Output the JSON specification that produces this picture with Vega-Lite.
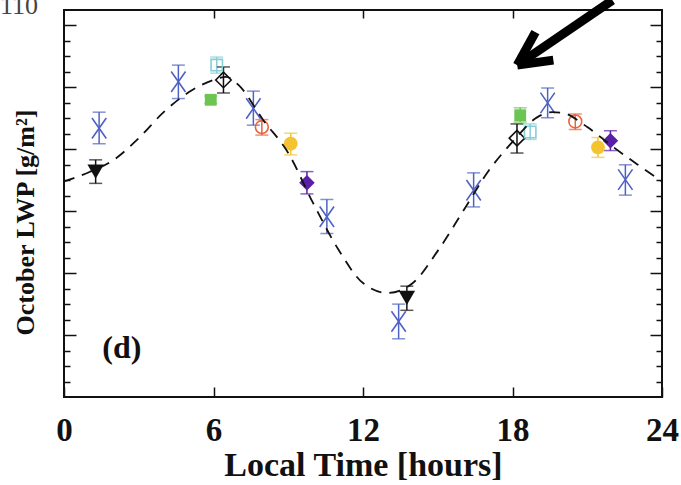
{
  "$schema": "https://vega.github.io/schema/vega-lite/v6.json",
  "width": 598,
  "height": 387,
  "autosize": {"type": "none"},
  "padding": {"left": 64, "top": 10, "right": 19, "bottom": 88},
  "background": "white",
  "config": {
    "view": {"stroke": "#111111", "strokeWidth": 2},
    "axis": {"domain": false, "grid": false, "tickColor": "#111111", "tickWidth": 1.5},
    "point": {"opacity": 1}
  },
  "datasets": {
    "fit": [
      {"hour": 0, "lwp": 74.8}, {"hour": 1, "lwp": 76.3}, {"hour": 2, "lwp": 78.3},
      {"hour": 3, "lwp": 81.8}, {"hour": 4, "lwp": 86.0}, {"hour": 5, "lwp": 89.2},
      {"hour": 6, "lwp": 91.2}, {"hour": 6.5, "lwp": 91.7}, {"hour": 7, "lwp": 90.4},
      {"hour": 8, "lwp": 84.7}, {"hour": 9, "lwp": 79.4}, {"hour": 10, "lwp": 71.3},
      {"hour": 11, "lwp": 63.9}, {"hour": 12, "lwp": 58.4}, {"hour": 13, "lwp": 56.8},
      {"hour": 14, "lwp": 58.4}, {"hour": 15, "lwp": 63.6}, {"hour": 16, "lwp": 69.9},
      {"hour": 17, "lwp": 76.3}, {"hour": 18, "lwp": 81.2}, {"hour": 19, "lwp": 85.2},
      {"hour": 19.6, "lwp": 86.0}, {"hour": 20, "lwp": 85.9}, {"hour": 21, "lwp": 83.6},
      {"hour": 22, "lwp": 80.5}, {"hour": 23, "lwp": 77.6}, {"hour": 24, "lwp": 74.8}
    ],
    "obs": [
      {"sensor": "TMI", "hour": 1.41, "lwp": 83.4, "lo": 80.9, "hi": 86.0},
      {"sensor": "TMI", "hour": 4.59, "lwp": 90.9, "lo": 88.2, "hi": 93.6},
      {"sensor": "TMI", "hour": 7.60, "lwp": 86.6, "lo": 83.9, "hi": 89.4},
      {"sensor": "TMI", "hour": 10.55, "lwp": 69.1, "lo": 66.4, "hi": 71.9},
      {"sensor": "TMI", "hour": 13.43, "lwp": 52.2, "lo": 49.4, "hi": 55.0},
      {"sensor": "TMI", "hour": 16.44, "lwp": 73.4, "lo": 70.7, "hi": 76.2},
      {"sensor": "TMI", "hour": 19.41, "lwp": 87.5, "lo": 85.1, "hi": 89.9},
      {"sensor": "TMI", "hour": 22.53, "lwp": 75.1, "lo": 72.6, "hi": 77.5},
      {"sensor": "AMSR-E", "hour": 1.27, "lwp": 76.4, "lo": 74.5, "hi": 78.3},
      {"sensor": "AMSR-E", "hour": 13.76, "lwp": 56.0, "lo": 54.0, "hi": 57.9},
      {"sensor": "F08", "hour": 6.40, "lwp": 91.2, "lo": 89.1, "hi": 93.3},
      {"sensor": "F08", "hour": 18.18, "lwp": 81.8, "lo": 79.4, "hi": 84.1},
      {"sensor": "F10", "hour": 5.89, "lwp": 88.0, "lo": 87.4, "hi": 88.6},
      {"sensor": "F10", "hour": 18.31, "lwp": 85.5, "lo": 84.4, "hi": 86.7},
      {"sensor": "F11", "hour": 6.13, "lwp": 93.6, "lo": 92.3, "hi": 94.9},
      {"sensor": "F11", "hour": 18.71, "lwp": 82.8, "lo": 81.6, "hi": 84.1},
      {"sensor": "F13", "hour": 7.94, "lwp": 83.6, "lo": 82.3, "hi": 84.8},
      {"sensor": "F13", "hour": 20.52, "lwp": 84.5, "lo": 83.2, "hi": 85.7},
      {"sensor": "F14", "hour": 9.10, "lwp": 80.9, "lo": 79.1, "hi": 82.6},
      {"sensor": "F14", "hour": 21.43, "lwp": 80.3, "lo": 78.7, "hi": 81.9},
      {"sensor": "F15", "hour": 9.75, "lwp": 74.6, "lo": 72.8, "hi": 76.4},
      {"sensor": "F15", "hour": 21.93, "lwp": 81.4, "lo": 79.8, "hi": 83.0}
    ],
    "arrow": [
      {"hour": 22.01, "lwp": 104.08, "hour2": 18.19, "lwp2": 93.6},
      {"hour": 18.19, "lwp": 93.6, "hour2": 18.92, "lwp2": 98.92},
      {"hour": 18.19, "lwp": 93.6, "hour2": 19.64, "lwp2": 94.4}
    ],
    "panel": [{"hour": 2.32, "lwp": 46.34, "label": "(d)"}],
    "corner": [{"hour": -2.57, "lwp": 101.82, "label": "110"}]
  },
  "layer": [
    {
      "data": {"name": "obs"},
      "mark": {"type": "rule", "strokeWidth": 1.5},
      "encoding": {
        "x": {
          "field": "hour", "type": "quantitative",
          "scale": {"domain": [0, 24], "nice": false, "zero": false},
          "axis": {
            "orient": "bottom", "values": [0, 6, 12, 18, 24], "tickSize": -10,
            "labelFont": "Liberation Serif", "labelFontWeight": "bold", "labelFontSize": 33,
            "labelColor": "#111111", "labelPadding": 27, "labelFlush": false,
            "title": "Local Time [hours]", "titleFont": "Liberation Serif", "titleFontWeight": "bold",
            "titleFontSize": 34, "titleColor": "#111111", "titlePadding": 1
          }
        },
        "y": {
          "field": "lo", "type": "quantitative",
          "scale": {"domain": [40, 102.5], "nice": false, "zero": false},
          "axis": {
            "orient": "left",
            "values": [42.5, 45, 47.5, 50, 52.5, 55, 57.5, 60, 62.5, 65, 67.5, 70, 72.5, 75, 77.5, 80, 82.5, 85, 87.5, 90, 92.5, 95, 97.5, 100],
            "tickSize": {"condition": {"test": "datum.value % 10 === 0", "value": -12}, "value": -6},
            "labels": false,
            "title": "October LWP [g/m²]", "titleFont": "Liberation Serif", "titleFontWeight": "bold",
            "titleFontSize": 26, "titleColor": "#111111", "titleX": -31, "titleY": 212,
            "titleBaseline": "alphabetic"
          }
        },
        "y2": {"field": "hi"},
        "color": {
          "field": "sensor", "type": "nominal", "legend": null,
          "scale": {
            "domain": ["TMI", "AMSR-E", "F08", "F10", "F11", "F13", "F14", "F15"],
            "range": ["#4f62c4", "#111111", "#111111", "#6cc452", "#86cfd6", "#e8643c", "#f4c430", "#5a1fa6"]
          }
        }
      }
    },
    {
      "data": {"name": "obs"},
      "mark": {"type": "tick", "orient": "horizontal", "size": 13, "thickness": 1.5},
      "encoding": {
        "x": {"field": "hour", "type": "quantitative", "scale": {"domain": [0, 24], "nice": false, "zero": false}, "axis": null},
        "y": {"field": "lo", "type": "quantitative", "scale": {"domain": [40, 102.5], "nice": false, "zero": false}, "axis": null},
        "color": {"field": "sensor", "type": "nominal", "legend": null}
      }
    },
    {
      "data": {"name": "obs"},
      "mark": {"type": "tick", "orient": "horizontal", "size": 13, "thickness": 1.5},
      "encoding": {
        "x": {"field": "hour", "type": "quantitative", "scale": {"domain": [0, 24], "nice": false, "zero": false}, "axis": null},
        "y": {"field": "hi", "type": "quantitative", "scale": {"domain": [40, 102.5], "nice": false, "zero": false}, "axis": null},
        "color": {"field": "sensor", "type": "nominal", "legend": null}
      }
    },
    {
      "data": {"name": "obs"},
      "transform": [{"filter": "datum.sensor === 'TMI'"}],
      "mark": {"type": "point", "shape": "M-0.7,-1L0.7,1M0.7,-1L-0.7,1", "size": 420, "filled": false, "strokeWidth": 1.6},
      "encoding": {
        "x": {"field": "hour", "type": "quantitative", "scale": {"domain": [0, 24], "nice": false, "zero": false}, "axis": null},
        "y": {"field": "lwp", "type": "quantitative", "scale": {"domain": [40, 102.5], "nice": false, "zero": false}, "axis": null},
        "color": {"field": "sensor", "type": "nominal", "legend": null}
      }
    },
    {
      "data": {"name": "obs"},
      "transform": [{"filter": "datum.sensor === 'AMSR-E'"}],
      "mark": {"type": "point", "shape": "triangle-down", "size": 270, "filled": true},
      "encoding": {
        "x": {"field": "hour", "type": "quantitative", "scale": {"domain": [0, 24], "nice": false, "zero": false}, "axis": null},
        "y": {"field": "lwp", "type": "quantitative", "scale": {"domain": [40, 102.5], "nice": false, "zero": false}, "axis": null},
        "color": {"field": "sensor", "type": "nominal", "legend": null}
      }
    },
    {
      "data": {"name": "obs"},
      "transform": [{"filter": "datum.sensor === 'F08'"}],
      "mark": {"type": "point", "shape": "diamond", "size": 240, "filled": false, "strokeWidth": 1.6},
      "encoding": {
        "x": {"field": "hour", "type": "quantitative", "scale": {"domain": [0, 24], "nice": false, "zero": false}, "axis": null},
        "y": {"field": "lwp", "type": "quantitative", "scale": {"domain": [40, 102.5], "nice": false, "zero": false}, "axis": null},
        "color": {"field": "sensor", "type": "nominal", "legend": null}
      }
    },
    {
      "data": {"name": "obs"},
      "transform": [{"filter": "datum.sensor === 'F10'"}],
      "mark": {"type": "point", "shape": "square", "size": 140, "filled": true},
      "encoding": {
        "x": {"field": "hour", "type": "quantitative", "scale": {"domain": [0, 24], "nice": false, "zero": false}, "axis": null},
        "y": {"field": "lwp", "type": "quantitative", "scale": {"domain": [40, 102.5], "nice": false, "zero": false}, "axis": null},
        "color": {"field": "sensor", "type": "nominal", "legend": null}
      }
    },
    {
      "data": {"name": "obs"},
      "transform": [{"filter": "datum.sensor === 'F11'"}],
      "mark": {"type": "point", "shape": "square", "size": 130, "filled": false, "strokeWidth": 1.6},
      "encoding": {
        "x": {"field": "hour", "type": "quantitative", "scale": {"domain": [0, 24], "nice": false, "zero": false}, "axis": null},
        "y": {"field": "lwp", "type": "quantitative", "scale": {"domain": [40, 102.5], "nice": false, "zero": false}, "axis": null},
        "color": {"field": "sensor", "type": "nominal", "legend": null}
      }
    },
    {
      "data": {"name": "obs"},
      "transform": [{"filter": "datum.sensor === 'F13'"}],
      "mark": {"type": "point", "shape": "circle", "size": 165, "filled": false, "strokeWidth": 1.6},
      "encoding": {
        "x": {"field": "hour", "type": "quantitative", "scale": {"domain": [0, 24], "nice": false, "zero": false}, "axis": null},
        "y": {"field": "lwp", "type": "quantitative", "scale": {"domain": [40, 102.5], "nice": false, "zero": false}, "axis": null},
        "color": {"field": "sensor", "type": "nominal", "legend": null}
      }
    },
    {
      "data": {"name": "obs"},
      "transform": [{"filter": "datum.sensor === 'F14'"}],
      "mark": {"type": "point", "shape": "circle", "size": 190, "filled": true},
      "encoding": {
        "x": {"field": "hour", "type": "quantitative", "scale": {"domain": [0, 24], "nice": false, "zero": false}, "axis": null},
        "y": {"field": "lwp", "type": "quantitative", "scale": {"domain": [40, 102.5], "nice": false, "zero": false}, "axis": null},
        "color": {"field": "sensor", "type": "nominal", "legend": null}
      }
    },
    {
      "data": {"name": "obs"},
      "transform": [{"filter": "datum.sensor === 'F15'"}],
      "mark": {"type": "point", "shape": "diamond", "size": 240, "filled": true},
      "encoding": {
        "x": {"field": "hour", "type": "quantitative", "scale": {"domain": [0, 24], "nice": false, "zero": false}, "axis": null},
        "y": {"field": "lwp", "type": "quantitative", "scale": {"domain": [40, 102.5], "nice": false, "zero": false}, "axis": null},
        "color": {"field": "sensor", "type": "nominal", "legend": null}
      }
    },
    {
      "data": {"name": "fit"},
      "mark": {"type": "line", "color": "#111111", "strokeWidth": 1.8, "strokeDash": [11, 8], "interpolate": "monotone"},
      "encoding": {
        "x": {"field": "hour", "type": "quantitative", "scale": {"domain": [0, 24], "nice": false, "zero": false}, "axis": null},
        "y": {"field": "lwp", "type": "quantitative", "scale": {"domain": [40, 102.5], "nice": false, "zero": false}, "axis": null}
      }
    },
    {
      "data": {"name": "arrow"},
      "mark": {"type": "rule", "color": "#000000", "strokeWidth": 9, "strokeCap": "butt"},
      "encoding": {
        "x": {"field": "hour", "type": "quantitative", "scale": {"domain": [0, 24], "nice": false, "zero": false}, "axis": null},
        "y": {"field": "lwp", "type": "quantitative", "scale": {"domain": [40, 102.5], "nice": false, "zero": false}, "axis": null},
        "x2": {"field": "hour2"},
        "y2": {"field": "lwp2"}
      }
    },
    {
      "data": {"name": "panel"},
      "mark": {"type": "text", "font": "Liberation Serif", "fontWeight": "bold", "fontSize": 32, "align": "center", "baseline": "alphabetic", "color": "#111111"},
      "encoding": {
        "x": {"field": "hour", "type": "quantitative", "scale": {"domain": [0, 24], "nice": false, "zero": false}, "axis": null},
        "y": {"field": "lwp", "type": "quantitative", "scale": {"domain": [40, 102.5], "nice": false, "zero": false}, "axis": null},
        "text": {"field": "label"}
      }
    },
    {
      "data": {"name": "corner"},
      "mark": {"type": "text", "font": "Liberation Serif", "fontWeight": "normal", "fontSize": 26, "align": "left", "baseline": "alphabetic", "color": "#444444"},
      "encoding": {
        "x": {"field": "hour", "type": "quantitative", "scale": {"domain": [0, 24], "nice": false, "zero": false}, "axis": null},
        "y": {"field": "lwp", "type": "quantitative", "scale": {"domain": [40, 102.5], "nice": false, "zero": false}, "axis": null},
        "text": {"field": "label"}
      }
    },
    {
      "data": {"name": "fit"},
      "mark": {"type": "rule", "opacity": 0},
      "encoding": {
        "x": {
          "field": "hour", "type": "quantitative",
          "scale": {"domain": [0, 24], "nice": false, "zero": false},
          "axis": {"orient": "top", "values": [6, 12, 18], "tickSize": -8, "labels": false, "title": null}
        },
        "y": {
          "field": "lwp", "type": "quantitative",
          "scale": {"domain": [40, 102.5], "nice": false, "zero": false},
          "axis": {
            "orient": "right",
            "values": [42.5, 45, 47.5, 50, 52.5, 55, 57.5, 60, 62.5, 65, 67.5, 70, 72.5, 75, 77.5, 80, 82.5, 85, 87.5, 90, 92.5, 95, 97.5, 100],
            "tickSize": {"condition": {"test": "datum.value % 10 === 0", "value": -12}, "value": -6},
            "labels": false, "title": null
          }
        }
      }
    }
  ],
  "resolve": {"axis": {"x": "independent", "y": "independent"}}
}
